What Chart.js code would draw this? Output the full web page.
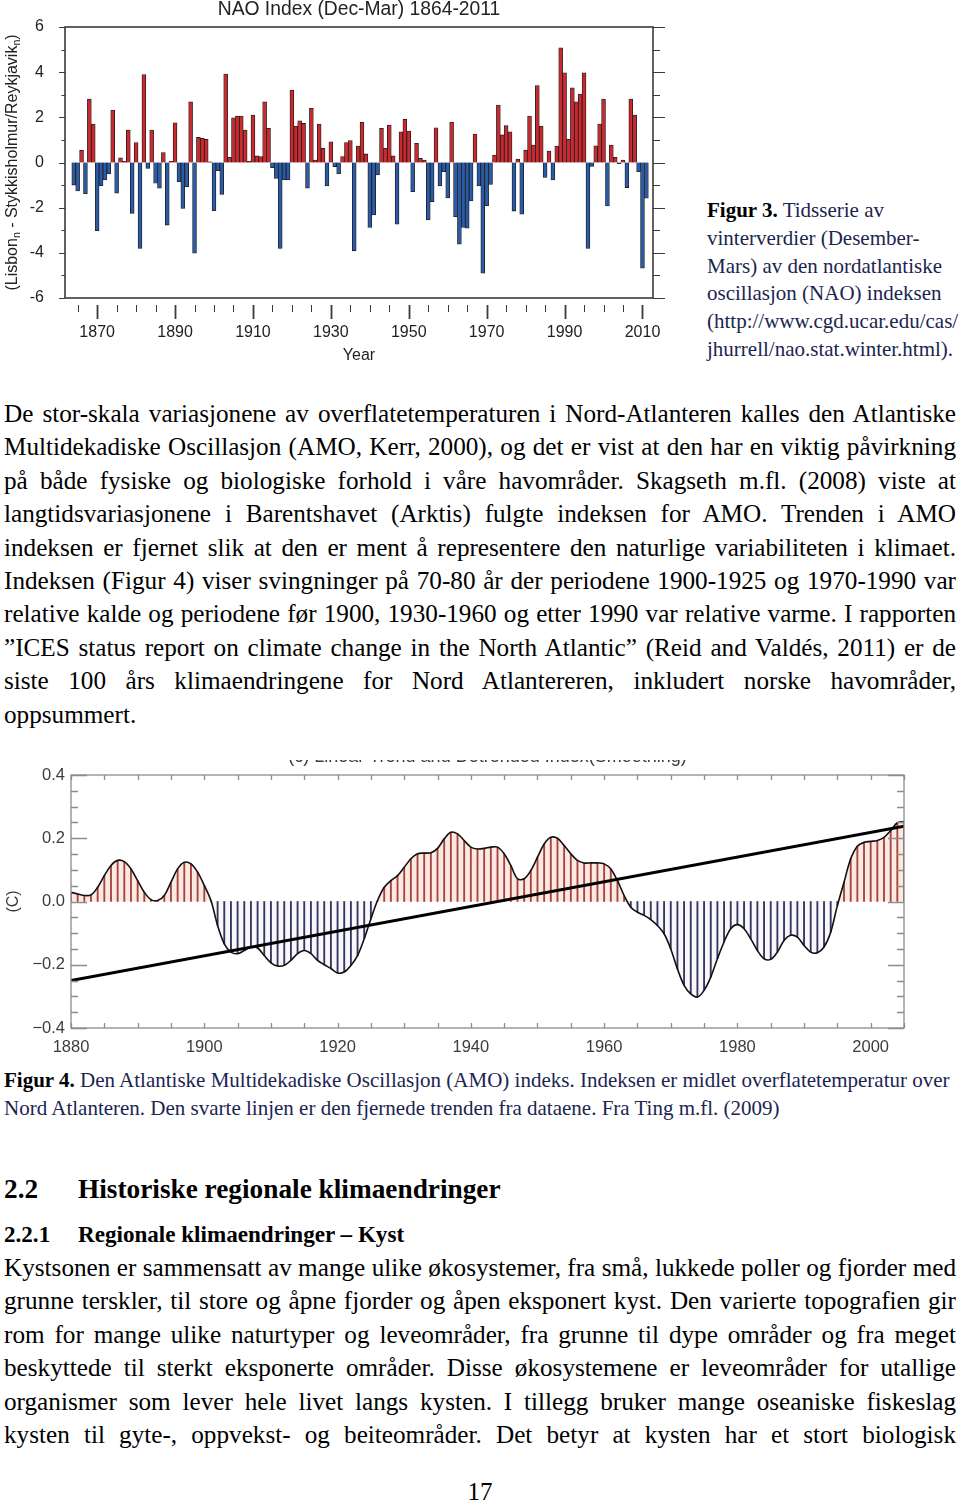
<!DOCTYPE html>
<html lang="no">
<head>
<meta charset="UTF-8">
<title>NAO og AMO</title>
<script src="https://cdn.jsdelivr.net/npm/chart.js@4.4.1/dist/chart.umd.min.js"></script>
<style>
    body { margin: 0; background: #fff; }
    .page { position: relative; width: 960px; height: 1505px; overflow: hidden;
            font-family: "Liberation Serif", "Times New Roman", serif; color: #000; }
    .abs { position: absolute; }
    .para { left: 4px; width: 952px; font-size: 25.2px; line-height: 33.4px; }
    .para div { white-space: nowrap; }
    .cap3 { left: 707px; top: 197px; font-size: 21px; line-height: 27.8px; color: #1b2550; white-space: nowrap; }
    .cap4 { left: 4px; top: 1066px; font-size: 21px; line-height: 28px; color: #1b2550; white-space: nowrap; }
    .cap3 b, .cap4 b { color: #000; }
    .h2 { left: 4px; top: 1174px; font-size: 27.3px; line-height: 30px; font-weight: bold; }
    .h3 { left: 4px; top: 1220px; font-size: 23.1px; line-height: 28px; font-weight: bold; }
    .num { display: inline-block; width: 74px; }
    .pageno { left: 0; width: 960px; top: 1478px; text-align: center; font-size: 25px; line-height: 28px; }
</style>
</head>
<body>
<div class="page">

    <canvas id="naoChart" class="abs" style="left:0;top:0" width="670" height="370"></canvas>

    <div class="abs cap3">
        <div><b>Figur 3.</b> Tidsserie av</div>
        <div>vinterverdier (Desember-</div>
        <div>Mars) av den nordatlantiske</div>
        <div>oscillasjon (NAO) indeksen</div>
        <div>(http://www.cgd.ucar.edu/cas/</div>
        <div>jhurrell/nao.stat.winter.html).</div>
    </div>

    <div class="abs para" style="top:397px">
        <div>De stor-skala variasjonene av overflatetemperaturen i Nord-Atlanteren kalles den Atlantiske</div>
        <div>Multidekadiske Oscillasjon (AMO, Kerr, 2000), og det er vist at den har en viktig påvirkning</div>
        <div>på både fysiske og biologiske forhold i våre havområder. Skagseth m.fl. (2008) viste at</div>
        <div>langtidsvariasjonene i Barentshavet (Arktis) fulgte indeksen for AMO. Trenden i AMO</div>
        <div>indeksen er fjernet slik at den er ment å representere den naturlige variabiliteten i klimaet.</div>
        <div>Indeksen (Figur 4) viser svingninger på 70-80 år der periodene 1900-1925 og 1970-1990 var</div>
        <div>relative kalde og periodene før 1900, 1930-1960 og etter 1990 var relative varme. I rapporten</div>
        <div>”ICES status report on climate change in the North Atlantic” (Reid and Valdés, 2011) er de</div>
        <div>siste 100 års klimaendringene for Nord Atlantereren, inkludert norske havområder,</div>
        <div class="last">oppsummert.</div>
    </div>

    <canvas id="amoChart" class="abs" style="left:0;top:760px" width="960" height="300"></canvas>

    <div class="abs cap4">
        <div><b>Figur 4.</b> Den Atlantiske Multidekadiske Oscillasjon (AMO) indeks. Indeksen er midlet overflatetemperatur over</div>
        <div>Nord Atlanteren. Den svarte linjen er den fjernede trenden fra dataene. Fra Ting m.fl. (2009)</div>
    </div>

    <div class="abs h2"><span class="num">2.2</span>Historiske regionale klimaendringer</div>
    <div class="abs h3"><span class="num">2.2.1</span>Regionale klimaendringer – Kyst</div>

    <div class="abs para" style="top:1251px">
        <div>Kystsonen er sammensatt av mange ulike økosystemer, fra små, lukkede poller og fjorder med</div>
        <div>grunne terskler, til store og åpne fjorder og åpen eksponert kyst. Den varierte topografien gir</div>
        <div>rom for mange ulike naturtyper og leveområder, fra grunne til dype områder og fra meget</div>
        <div>beskyttede til sterkt eksponerte områder. Disse økosystemene er leveområder for utallige</div>
        <div>organismer som lever hele livet langs kysten. I tillegg bruker mange oseaniske fiskeslag</div>
        <div>kysten til gyte-, oppvekst- og beiteområder. Det betyr at kysten har et stort biologisk</div>
    </div>

    <div class="abs pageno">17</div>
</div>

<script>
    // ---- Figur 3: NAO-indeks (des-mars), ett tall per vinter fra 1864 ----
    const naoStart = 1864;
    const naoValues = [
        -1.00, -1.26, 0.54, -1.38, 2.81, 1.70,                              // 1864-1869
        -3.02, -1.03, -0.77, -0.51, 2.32, -1.36, 0.21, 0.05, 1.44, -2.25,   // 1870-
        0.88, -3.80, 3.89, -0.26, 1.44, -0.92, -1.14, 0.44, -2.77, 0.05,    // 1880-
        1.76, -0.85, -2.03, -1.07, 2.69, -4.02, 1.11, 1.07, 1.03, 0.03,     // 1890-
        -2.13, -0.36, -1.41, 3.92, 0.23, 1.98, 2.06, 2.06, 1.44, 0.05,      // 1900-
        2.10, 0.29, 0.26, 2.69, 1.51, -0.23, -0.70, -3.80, -0.77, -0.77,    // 1910-
        3.21, 1.61, 1.85, 1.73, -1.14, 2.40, 0.11, 1.70, 0.63, -1.04,       // 1920-
        0.92, -0.18, -0.51, 0.26, 0.88, 0.97, -3.91, 0.73, 1.78, 0.38,      // 1930-
        -2.88, -2.32, -0.55, 1.51, 0.63, 1.66, 0.29, -2.73, 1.36, 1.91,     // 1940-
        1.39, -1.29, 0.85, 0.18, 0.11, -2.54, -1.73, 1.54, -1.04, -0.41,    // 1950-
        -1.57, 1.79, -2.40, -3.62, -2.88, -2.91, -1.70, 1.26, -1.04, -4.90, // 1960-
        -1.91, -0.97, 0.33, 2.54, 1.22, 1.63, 1.36, -2.15, 0.15, -2.29,     // 1970-
        0.55, 2.06, 0.77, 3.41, 1.61, -0.66, 0.51, -0.77, 0.73, 5.08,       // 1980-
        3.97, 1.03, 3.31, 2.69, 3.03, 3.97, -3.80, -0.17, 0.74, 1.70,       // 1990-
        2.81, -1.92, 0.77, 0.23, -0.05, 0.11, -1.11, 2.81, 2.10, -0.41,     // 2000-
        -4.68, -1.58                                                        // 2010-2011
    ];
    const naoYears = naoValues.map((v, i) => naoStart + i);
    const naoYTicks = [-6, -4, -2, 0, 2, 4, 6];
    const naoXLabels = [1870, 1890, 1910, 1930, 1950, 1970, 1990, 2010];

    // ---- Figur 4: AMO, glattet og avtrendet (grader C) fra 1880 ----
    const amoStart = 1880;
    const amoValues = [
        0.029, 0.024, 0.019, 0.021, 0.045, 0.082, 0.114, 0.130, 0.126, 0.103,            // 1880-
        0.066, 0.029, 0.006, 0.003, 0.019, 0.061, 0.103, 0.124, 0.119, 0.093,            // 1890-
        0.051, 0.003, -0.076, -0.134, -0.160, -0.165, -0.155, -0.144, -0.147, -0.171,     // 1900-
        -0.194, -0.204, -0.202, -0.186, -0.165, -0.155, -0.165, -0.186, -0.200, -0.212,   // 1910-
        -0.226, -0.223, -0.202, -0.171, -0.118, -0.055, 0.003, 0.045, 0.066, 0.082,       // 1920-
        0.108, 0.135, 0.151, 0.153, 0.154, 0.168, 0.198, 0.219, 0.214, 0.193,            // 1930-
        0.172, 0.166, 0.168, 0.172, 0.172, 0.151, 0.114, 0.072, 0.072, 0.098,            // 1940-
        0.140, 0.182, 0.203, 0.200, 0.177, 0.151, 0.130, 0.122, 0.122, 0.122,            // 1950-
        0.119, 0.103, 0.066, 0.019, -0.018, -0.034, -0.044, -0.057, -0.076, -0.102,       // 1960-
        -0.150, -0.213, -0.265, -0.292, -0.302, -0.281, -0.239, -0.181, -0.128, -0.086,   // 1970-
        -0.073, -0.086, -0.118, -0.155, -0.181, -0.183, -0.160, -0.123, -0.107, -0.113,   // 1980-
        -0.139, -0.160, -0.162, -0.144, -0.097, -0.013, 0.061, 0.135, 0.175, 0.187,       // 1990-
        0.190, 0.193, 0.203, 0.224, 0.249, 0.253                                          // 2000-2005
    ];
    const amoYears = amoValues.map((v, i) => amoStart + i);
    // trenden som er fjernet (endepunkter)
    const trendYears = [1880, 2005];
    const trendValues = [-0.25, 0.238];
    const amoYTicks = [0.4, 0.2, 0, -0.2, -0.4];
    const amoXLabels = [1880, 1900, 1920, 1940, 1960, 1980, 2000];

    const sans = '"Liberation Sans", Arial, sans-serif';

    // blokkjustering linje for linje (som i dokumentet)
    document.querySelectorAll('.para > div').forEach(line => {
        if (line.classList.contains('last')) return;
        const span = document.createElement('span');
        span.innerHTML = line.innerHTML;
        line.innerHTML = '';
        line.appendChild(span);
        const gaps = (span.textContent.match(/ /g) || []).length;
        const natural = span.getBoundingClientRect().width;
        if (gaps) span.style.wordSpacing = ((952 - natural) / gaps) + 'px';
    });

    // akser, tikk og tekst for NAO-figuren
    const naoFrame = {
        id: 'naoFrame',
        afterDraw(chart) {
            const { ctx, chartArea: a } = chart;
            const x = chart.scales.x, y = chart.scales.y;
            ctx.save();
            ctx.strokeStyle = '#3a3a3a';
            ctx.lineWidth = 1.6;
            ctx.strokeRect(a.left, a.top, a.right - a.left, a.bottom - a.top);

            ctx.lineWidth = 1.1;
            ctx.beginPath();
            for (let v = -6; v <= 6; v++) {
                const py = Math.round(y.getPixelForValue(v)) + 0.5;
                const big = v % 2 === 0;
                ctx.moveTo(a.left - (big ? 6 : 3.5), py); ctx.lineTo(a.left, py);
                ctx.moveTo(a.right, py); ctx.lineTo(a.right + (big ? 12 : 7), py);
            }
            ctx.stroke();
            for (let yr = 1865; yr <= 2010; yr += 5) {
                const px = Math.round(x.getPixelForValue(yr)) + 0.5;
                const big = (yr - 1870) % 20 === 0;
                ctx.lineWidth = big ? 1.8 : 1;
                ctx.beginPath();
                ctx.moveTo(px, a.bottom + 7);
                ctx.lineTo(px, a.bottom + (big ? 21 : 14));
                ctx.stroke();
            }

            ctx.fillStyle = '#222';
            ctx.font = '16px ' + sans;
            ctx.textAlign = 'right';
            ctx.textBaseline = 'middle';
            naoYTicks.forEach(v => ctx.fillText(String(v), a.left - 21, y.getPixelForValue(v)));
            ctx.textAlign = 'center';
            naoXLabels.forEach(yr => ctx.fillText(String(yr), x.getPixelForValue(yr), a.bottom + 35));
            ctx.fillText('Year', (a.left + a.right) / 2, a.bottom + 58);

            ctx.font = '19.3px ' + sans;
            ctx.textBaseline = 'alphabetic';
            ctx.fillText('NAO Index (Dec-Mar) 1864-2011', (a.left + a.right) / 2, 15);

            // y-tittel med senket n
            const parts = [['(Lisbon', false], ['n', true], [' - Stykkisholmur/Reykjavik', false], ['n', true], [')', false]];
            const big = '16px ' + sans, small = '10.5px ' + sans;
            let total = 0;
            parts.forEach(p => { ctx.font = p[1] ? small : big; total += ctx.measureText(p[0]).width; });
            ctx.translate(17, (a.top + a.bottom) / 2);
            ctx.rotate(-Math.PI / 2);
            ctx.textAlign = 'left';
            let cx = -total / 2;
            parts.forEach(p => {
                ctx.font = p[1] ? small : big;
                ctx.fillText(p[0], cx, p[1] ? 3 : 0);
                cx += ctx.measureText(p[0]).width;
            });
            ctx.restore();
        }
    };

    new Chart(document.getElementById('naoChart'), {
        type: 'bar',
        data: {
            datasets: [{
                data: naoYears.map((yr, i) => ({ x: yr, y: naoValues[i] })),
                backgroundColor: ctx => (ctx.raw && ctx.raw.y >= 0) ? '#c92a30' : '#2c5ba6',
                borderColor: '#1a1a1a',
                borderWidth: 0.8,
                barPercentage: 1,
                categoryPercentage: 1,
            }],
        },
        options: {
            responsive: false,
            animation: false,
            devicePixelRatio: 1,
            layout: { padding: { left: 65, right: 17, top: 27, bottom: 72 } },
            scales: {
                x: { type: 'linear', min: 1861.75, max: 2012.7, offset: false, display: false },
                y: { min: -6, max: 6, display: false },
            },
            plugins: { legend: { display: false }, tooltip: { enabled: false } },
        },
        plugins: [naoFrame],
    });

    // akser, tikk og tekst for AMO-figuren
    const amoFrame = {
        id: 'amoFrame',
        afterDraw(chart) {
            const { ctx, chartArea: a } = chart;
            const x = chart.scales.x, y = chart.scales.y;
            ctx.save();
            ctx.strokeStyle = '#8c8c8c';
            ctx.lineWidth = 1.3;
            ctx.strokeRect(a.left, a.top, a.right - a.left, a.bottom - a.top);
            ctx.beginPath();
            for (let k = -8; k <= 8; k++) {
                const py = Math.round(y.getPixelForValue(k * 0.05)) + 0.5;
                const len = k % 4 === 0 ? 16 : 7;
                ctx.moveTo(a.left, py); ctx.lineTo(a.left + len, py);
                ctx.moveTo(a.right, py); ctx.lineTo(a.right - len, py);
            }
            for (let yr = 1880; yr <= 2005; yr += 5) {
                const px = Math.round(x.getPixelForValue(yr)) + 0.5;
                ctx.moveTo(px, a.bottom); ctx.lineTo(px, a.bottom - 5);
                ctx.moveTo(px, a.top); ctx.lineTo(px, a.top + 5);
            }
            ctx.stroke();

            ctx.fillStyle = '#3c3c3c';
            ctx.font = '16.5px ' + sans;
            ctx.textAlign = 'right';
            ctx.textBaseline = 'middle';
            amoYTicks.forEach(v => {
                const s = v === 0 ? '0.0' : (v < 0 ? '\u2212' : '') + Math.abs(v).toFixed(1);
                ctx.fillText(s, a.left - 6, y.getPixelForValue(v));
            });
            ctx.textAlign = 'center';
            amoXLabels.forEach(yr => ctx.fillText(String(yr), x.getPixelForValue(yr), a.bottom + 19));

            // tittelen er kuttet i originalen, bare nedre kant synes
            ctx.font = '18px ' + sans;
            ctx.fillText('(c) Linear Trend and Detrended Index(Smoothing)', (a.left + a.right) / 2, -3);

            ctx.translate(14, y.getPixelForValue(0));
            ctx.rotate(-Math.PI / 2);
            ctx.font = '16px ' + sans;
            ctx.fillText('(C)', 0, 0);
            ctx.restore();
        }
    };

    new Chart(document.getElementById('amoChart'), {
        type: 'bar',
        data: {
            datasets: [
                {
                    type: 'line',
                    order: 0,
                    data: trendYears.map((yr, i) => ({ x: yr, y: trendValues[i] })),
                    borderColor: '#000',
                    borderWidth: 3,
                    pointRadius: 0,
                    fill: false,
                },
                {
                    type: 'line',
                    order: 1,
                    data: amoYears.map((yr, i) => ({ x: yr, y: amoValues[i] })),
                    borderColor: '#111',
                    borderWidth: 1.6,
                    pointRadius: 0,
                    tension: 0.35,
                    fill: { target: 'origin', above: 'rgba(246,206,196,0.45)', below: 'rgba(226,226,242,0.25)' },
                },
                {
                    type: 'bar',
                    order: 2,
                    data: amoYears.map((yr, i) => ({ x: yr, y: amoValues[i] })),
                    backgroundColor: ctx => (ctx.raw && ctx.raw.y >= 0) ? '#a8443c' : '#35355f',
                    barThickness: 1.2,
                    borderWidth: 0,
                },
            ],
        },
        options: {
            responsive: false,
            animation: false,
            devicePixelRatio: 1,
            layout: { padding: { left: 71, right: 56, top: 15, bottom: 32 } },
            scales: {
                x: { type: 'linear', min: 1880, max: 2005, offset: false, display: false },
                y: { min: -0.4, max: 0.4, display: false },
            },
            plugins: {
                legend: { display: false },
                tooltip: { enabled: false },
                filler: { drawTime: 'beforeDatasetsDraw' },
            },
        },
        plugins: [amoFrame],
    });
</script>
</body>
</html>
